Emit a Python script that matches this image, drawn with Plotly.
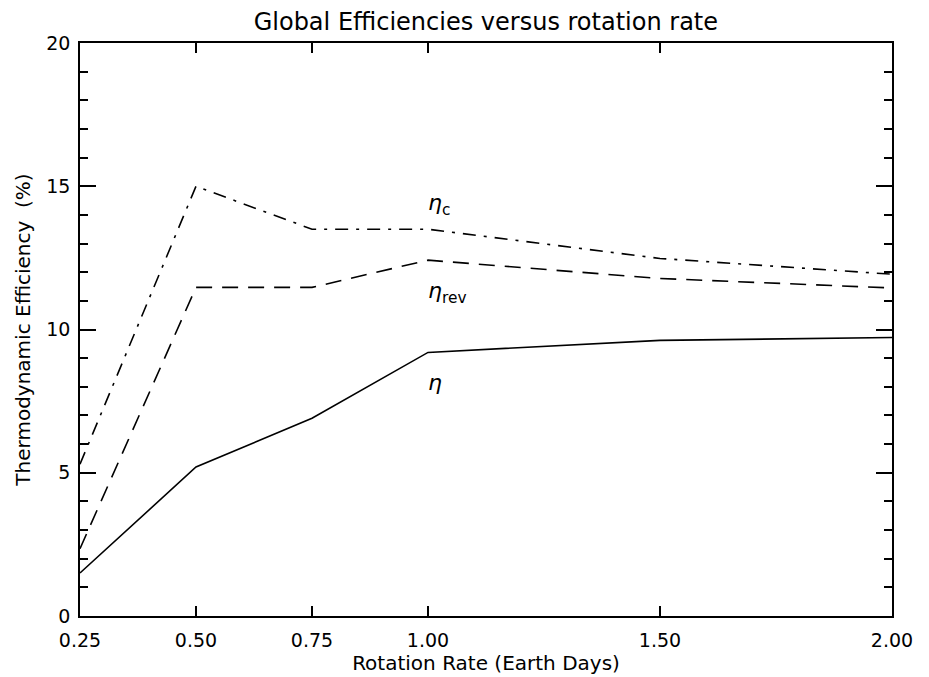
import plotly.graph_objects as go

rotation = [0.25, 0.50, 0.75, 1.00, 1.50, 2.00]
eta = [1.5, 5.2, 6.9, 9.2, 9.62, 9.72]
eta_rev = [2.35, 11.47, 11.47, 12.42, 11.78, 11.45]
eta_c = [5.3, 15.0, 13.5, 13.5, 12.48, 11.93]

x_ticks = [0.25, 0.50, 0.75, 1.00, 1.50, 2.00]
y_ticks = [0, 5, 10, 15, 20]

labels = [("<i>η</i><sub>c</sub>", 1.0, 14.35), ("<i>η</i><sub>rev</sub>", 1.0, 11.3), ("<i>η</i>", 1.0, 8.15)]

font = "DejaVu Sans"

fig = go.Figure()
fig.add_trace(go.Scatter(x=rotation, y=eta, mode="lines",
                         line=dict(color="black", width=1.6, dash="solid")))
fig.add_trace(go.Scatter(x=rotation, y=eta_rev, mode="lines",
                         line=dict(color="black", width=1.6, dash="16px,10px")))
fig.add_trace(go.Scatter(x=rotation, y=eta_c, mode="lines",
                         line=dict(color="black", width=1.6, dash="13px,8px,3px,8px")))

for txt, xv, yv in labels:
    fig.add_annotation(x=xv, y=yv, text=txt, showarrow=False, xanchor="left",
                       xshift=-2, font=dict(family="DejaVu Sans", size=22, color="black"))

fig.update_layout(
    width=929, height=677,
    margin=dict(l=80, r=37, t=43, b=61),
    paper_bgcolor="white", plot_bgcolor="white",
    showlegend=False,
    title=dict(text="Global Efficiencies versus rotation rate", x=0.523, xanchor="center",
               y=0.9675, yanchor="middle",
               font=dict(family=font, size=24, color="black")),
    font=dict(family=font, color="black"),
)
fig.update_xaxes(
    range=[0.25, 2.0], tickvals=x_ticks, tickformat=".2f", automargin=False,
    ticks="inside", ticklen=10, tickwidth=1.5, tickcolor="black",
    showline=True, linecolor="black", linewidth=1.5, mirror="allticks",
    showgrid=False, zeroline=False,
    tickfont=dict(size=19, family=font, color="black"),
    ticklabelstandoff=6,
    title=dict(text="Rotation Rate (Earth Days)", font=dict(size=20, family=font, color="black"), standoff=4),
)
fig.update_yaxes(
    range=[0, 20], tickvals=y_ticks, automargin=False,
    ticks="inside", ticklen=16, tickwidth=1.5, tickcolor="black",
    minor=dict(dtick=1, ticks="inside", ticklen=8, tickwidth=1.5, tickcolor="black", showgrid=False),
    showline=True, linecolor="black", linewidth=1.5, mirror="allticks",
    showgrid=False, zeroline=False,
    tickfont=dict(size=19, family=font, color="black"),
    ticklabelstandoff=4,
    title=dict(text="Thermodynamic Efficiency\u00a0\u00a0(%)", font=dict(size=20, family=font, color="black"), standoff=10),
)

fig.write_html("out.html", config={"displayModeBar": False},
               post_script="document.body.style.margin='0px';document.body.style.overflow='hidden';")
